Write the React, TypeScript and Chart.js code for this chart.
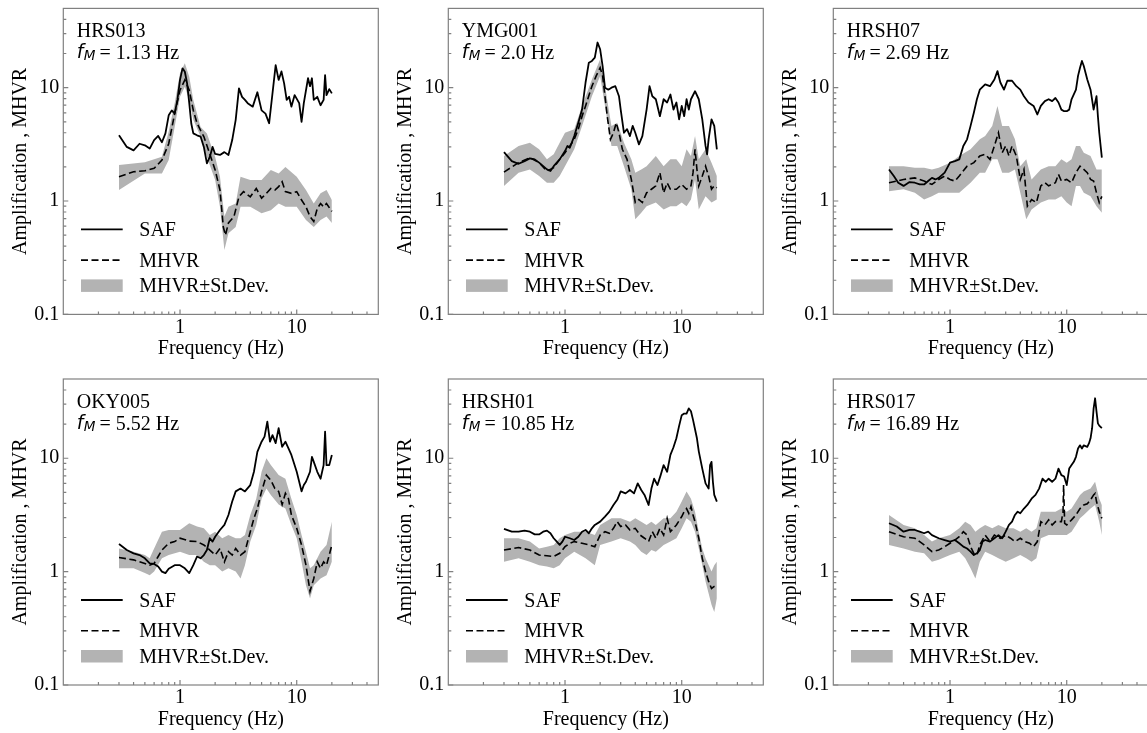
import React, { useEffect, useRef } from 'react';
import { Chart, registerables } from 'chart.js';

Chart.register(...registerables);

const SERIF = '"Liberation Serif", "Times New Roman", serif';
const SANS = '"DejaVu Sans", "Noto Sans", sans-serif';
const AXIS_COLOR = '#808080';
const BAND_COLOR = '#b3b3b3';

// ---------- tick values ----------
const xMajor = [1, 10];
const yMajor = [0.1, 1, 10];
const minorVals = [0.2, 0.3, 0.4, 0.5, 0.6, 0.7, 0.8, 0.9, 2, 3, 4, 5, 6, 7, 8, 9, 20, 30, 40];
const xTitle = 'Frequency (Hz)';
const yTitle = 'Amplification , MHVR';
const legendLabels = ['SAF', 'MHVR', 'MHVR\u00B1St.Dev.'];

// ---------- panel 1: HRS013 ----------
const p1SafF = [0.3,0.35,0.4,0.45,0.5,0.55,0.6,0.65,0.7,0.75,0.8,0.85,0.9,0.95,1.0,1.05,1.1,1.15,1.2,1.25,1.3,1.4,1.5,1.6,1.7,1.8,1.9,2.0,2.2,2.4,2.6,2.8,3.0,3.2,3.4,3.6,3.8,4.2,4.6,5.0,5.4,5.8,6.2,6.6,7.0,7.4,7.8,8.2,8.6,9.0,9.6,10.5,11,11.5,12.5,13,13.5,14,15,16,17,17.5,18,19,20];
const p1SafV = [3.8,3.0,2.8,3.2,3.1,2.9,3.45,3.75,3.3,3.95,5.7,6.3,5.9,7.8,11.7,14.8,13.8,10.9,7.3,4.8,3.95,3.8,3.7,3.0,2.15,2.45,3.0,2.6,2.55,2.7,2.55,3.45,5.2,9.85,8.3,7.8,7.3,6.8,9.1,6.3,5.9,4.85,8.9,15.8,11.7,13.9,10.9,7.8,8.3,6.8,8.6,7.3,5.0,7.3,12.1,10.3,12.1,7.8,8.3,7.0,7.8,12.9,8.6,9.7,8.9];
const p1MhF = [0.3,0.4,0.5,0.6,0.7,0.8,0.9,1.0,1.1,1.2,1.3,1.4,1.5,1.6,1.8,2.0,2.2,2.35,2.45,2.6,2.9,3.2,3.5,4.0,4.5,5.0,5.5,6.0,6.5,7.0,7.5,8.0,9.0,10,11,12,13,14,15,16,17,18,20];
const p1MhV = [1.64,1.81,1.85,1.94,2.3,3.2,5.9,9.5,11.7,9.5,6.3,4.85,4.2,3.7,2.6,1.88,1.25,0.59,0.5,0.64,0.73,1.09,1.21,1.09,1.29,1.06,1.17,1.29,1.25,1.34,1.48,1.21,1.17,1.21,1.02,0.89,0.73,0.66,0.86,0.95,0.89,0.95,0.81];
const p1BandF = [0.3,0.5,0.7,0.8,0.9,1.0,1.1,1.2,1.3,1.5,1.7,2.0,2.2,2.4,2.6,3.0,3.3,4,5,6,7,8,10,12,14,16,18,20];
const p1BandHi = [2.08,2.2,2.46,4.1,7.3,13.4,16.4,12.5,7.8,4.5,3.95,2.45,1.64,0.73,0.89,0.95,1.64,1.53,1.53,1.88,1.75,2.0,1.64,1.25,0.95,1.17,1.25,1.02];
const p1BandLo = [1.25,1.75,1.75,2.3,4.5,8.3,10.2,7.8,5.2,3.7,2.45,1.53,0.89,0.37,0.52,0.59,0.89,0.89,0.78,0.83,0.95,0.89,0.89,0.68,0.59,0.68,0.73,0.64];

// ---------- panel 2: YMG001 ----------
const p2SafF = [0.3,0.35,0.4,0.45,0.5,0.55,0.6,0.7,0.75,0.8,0.9,1.0,1.05,1.1,1.2,1.3,1.4,1.5,1.6,1.7,1.8,1.9,2.0,2.1,2.2,2.35,2.5,2.7,2.9,3.0,3.2,3.4,3.6,3.8,4.0,4.3,4.6,5.0,5.3,5.6,6.0,6.5,7,7.5,8,8.5,9,9.5,10,10.5,11,11.5,12,13,14,15,16,16.5,17,18,19,20];
const p2SafV = [2.7,2.25,2.13,2.25,2.38,2.33,2.18,1.9,1.84,2.03,2.33,2.76,3.06,2.95,3.74,4.9,6.4,11.1,16.6,17.2,18.4,25,21.8,15.5,10,9.6,10,10.3,8.4,6.4,4.0,4.3,3.74,4.6,4.0,3.16,3.74,6.4,10.3,8.4,7.9,5.6,7.9,7.4,8.7,6.4,7.4,5.25,6.9,5.6,7.9,6.4,7.9,9.3,7.9,5.25,3.06,2.58,3.5,5.25,4.6,2.86];
const p2MhF = [0.3,0.4,0.5,0.6,0.7,0.8,0.9,1.0,1.1,1.2,1.3,1.4,1.5,1.7,1.85,2.0,2.1,2.2,2.3,2.45,2.6,2.75,2.9,3.1,3.4,3.7,4.0,4.3,4.6,5,5.5,6,6.5,7,7.5,8,9,10,11,12,12.5,13,13.5,14,15,16,17,18,19,20];
const p2MhV = [1.8,2.18,2.41,2.18,1.84,1.97,2.33,2.67,3.06,3.5,4.3,5.6,6.9,10.3,12.7,15.0,12.7,8.4,5.6,3.5,4.0,4.9,4.0,2.86,2.33,1.55,0.97,1.03,0.97,1.18,1.27,1.36,1.78,1.18,1.45,1.27,1.27,1.4,1.27,1.36,1.78,2.86,1.9,1.36,1.66,2.03,1.66,1.27,1.36,1.31];
const p2BandF = [0.3,0.4,0.5,0.6,0.7,0.8,0.9,1.0,1.2,1.4,1.7,2.0,2.2,2.5,2.8,3.2,3.7,4.0,4.5,5,6,7,8,9,10,11,12,13,14,16,18,20];
const p2BandHi = [2.5,3.06,3.27,2.86,2.33,2.58,3.27,4.0,4.3,6.9,11.8,17.8,10.3,4.6,4.9,3.27,2.33,1.78,1.9,2.03,2.5,2.03,2.33,2.33,2.03,2.86,2.5,3.74,2.33,2.86,2.18,1.66];
const p2BandLo = [1.36,1.78,1.9,1.66,1.45,1.45,1.66,2.03,2.86,4.6,8.4,12.7,6.9,3.06,3.06,2.03,1.27,0.69,0.79,0.9,0.97,0.84,0.9,0.9,0.97,0.9,1.03,1.55,0.84,1.1,0.97,1.03];

// ---------- panel 3: HRSH07 ----------
const p3SafF = [0.3,0.33,0.36,0.4,0.45,0.5,0.55,0.6,0.65,0.7,0.75,0.8,0.9,1.0,1.1,1.2,1.3,1.4,1.5,1.6,1.7,1.8,2.0,2.2,2.4,2.55,2.7,2.9,3.1,3.4,3.7,4.0,4.3,4.7,5.2,5.6,6.0,6.5,7.0,7.5,8.0,8.5,9.0,9.5,10,10.5,11,12,12.5,13,13.5,14,15,16,17,18,18.5,19,20];
const p3SafV = [1.9,1.66,1.45,1.36,1.47,1.45,1.4,1.4,1.5,1.6,1.55,1.6,1.78,2.18,2.25,2.33,3.06,3.5,4.6,6.0,7.9,9.6,10.7,10.3,11.8,14.0,11.1,9.6,11.5,11.5,10.3,9.6,8.4,7.4,6.9,5.8,6.9,7.6,7.9,7.6,8.1,7.4,6.4,6.2,6.2,6.4,7.9,9.6,12.7,15,17.2,15.5,11.8,9.6,6.4,8.4,5.6,4.0,2.41];
const p3MhF = [0.3,0.4,0.5,0.6,0.7,0.8,0.9,1.0,1.1,1.2,1.4,1.6,1.8,2.0,2.2,2.4,2.6,2.8,3.0,3.2,3.4,3.7,4.0,4.3,4.6,5.0,5.5,6.0,6.5,7,8,8.5,9,10,11,12,13,14,15,16,17,18,19,20];
const p3MhV = [1.45,1.55,1.6,1.5,1.4,1.55,1.66,1.55,1.5,1.66,2.03,2.18,2.5,2.58,2.33,3.06,4.0,2.67,3.06,2.5,3.06,2.5,1.55,1.9,0.9,1.03,0.97,1.36,1.45,1.36,1.45,1.72,1.5,1.55,1.45,1.78,2.03,1.9,1.78,1.55,1.5,1.18,0.97,1.1];
const p3BandF = [0.3,0.4,0.5,0.6,0.7,0.8,1.0,1.2,1.5,1.8,2.0,2.3,2.55,2.8,3.2,3.6,4.0,4.5,5,6,7,8,9,10,11,12,13,14,16,18,20];
const p3BandHi = [2.03,2.03,1.97,1.97,1.9,1.97,2.18,2.5,2.86,3.5,3.74,4.6,6.9,4.6,4.6,3.5,2.03,2.33,1.55,1.9,2.03,2.03,2.33,2.18,2.33,3.06,3.06,2.67,2.5,1.9,1.9];
const p3BandLo = [1.22,1.27,1.18,1.03,1.1,1.18,1.18,1.18,1.45,1.78,1.78,2.33,2.33,1.78,1.78,1.9,1.18,0.69,0.84,0.97,1.03,1.03,1.1,0.97,0.9,1.36,1.36,1.18,1.1,0.9,0.79];

// ---------- panel 4: OKY005 ----------
const p4SafF = [0.3,0.35,0.4,0.45,0.5,0.55,0.6,0.65,0.7,0.75,0.8,0.9,1.0,1.1,1.2,1.3,1.4,1.5,1.6,1.7,1.8,1.9,2.0,2.2,2.4,2.6,2.8,3.0,3.3,3.6,4.0,4.3,4.6,5.0,5.3,5.6,5.9,6.2,6.6,7.0,7.5,8.0,8.5,9.0,10,10.5,11,11.5,12,13,13.5,14,15,16,17,17.5,18,19,20];
const p4SafV = [1.75,1.55,1.45,1.4,1.31,1.18,1.17,1.11,1.0,0.97,1.06,1.14,1.14,1.07,0.97,1.14,1.36,1.31,1.4,1.55,1.97,1.84,2.03,2.33,2.58,3.16,4.15,5.1,5.4,5.1,5.8,7.6,11.4,14.0,15.5,21,14,16,13.6,18.4,12.6,14,12.2,10.7,7.6,6.2,5.1,5.8,6.2,7.6,10.3,9.3,7.6,6.6,8.7,17.2,8.7,8.7,10.7];
const p4MhF = [0.3,0.4,0.5,0.55,0.6,0.65,0.7,0.8,0.9,1.0,1.2,1.4,1.6,1.8,2.0,2.2,2.4,2.6,2.8,3.0,3.3,3.6,4.0,4.3,4.6,5.0,5.5,6.0,6.5,7.0,7.5,8.0,8.5,9.0,10,11,12,12.5,13,14,15,16,17,18,19,20];
const p4MhV = [1.33,1.27,1.18,1.14,1.18,1.36,1.55,1.78,1.84,1.97,1.86,1.84,1.72,1.55,1.4,1.6,1.22,1.5,1.4,1.6,1.4,1.5,2.25,2.95,3.6,5.1,7.1,6.4,5.4,5.1,3.9,4.9,4.4,3.16,2.41,1.72,1.14,0.87,0.67,0.87,1.22,1.07,1.22,1.14,1.4,1.72];
const p4BandF = [0.3,0.4,0.5,0.55,0.6,0.7,0.8,1.0,1.2,1.4,1.6,1.8,2.0,2.3,2.6,3.0,3.3,3.6,4.0,4.5,5.0,5.5,6.0,7.0,8.0,9.0,10,11,12,13,14,16,18,20];
const p4BandHi = [1.6,1.5,1.4,1.31,1.6,2.25,2.33,2.33,2.67,2.5,2.41,2.1,2.25,1.97,2.1,1.97,1.97,2.1,3.16,4.4,7.6,10,8.7,7.1,6.6,4.4,3.16,2.1,1.5,1.07,1.14,1.5,1.72,2.76];
const p4BandLo = [1.07,1.07,0.97,0.93,1.0,1.31,1.4,1.5,1.4,1.4,1.22,1.14,1.14,1.0,1.07,1.0,0.87,1.14,1.84,2.58,4.4,5.4,4.75,3.9,3.6,2.58,1.97,1.22,0.76,0.58,0.76,0.87,0.93,1.22];

// ---------- panel 5: HRSH01 ----------
const p5SafF = [0.3,0.35,0.4,0.45,0.5,0.55,0.6,0.65,0.7,0.75,0.8,0.85,0.9,0.95,1.0,1.1,1.2,1.3,1.4,1.5,1.6,1.7,1.8,2.0,2.2,2.4,2.6,2.8,3.0,3.3,3.6,3.9,4.2,4.5,4.8,5.2,5.5,5.8,6.2,6.6,7.0,7.5,8.0,8.5,9.0,9.5,10,10.5,11,11.5,12,12.5,13,13.5,14,15,16,17,17.5,18,18.5,19,20];
const p5SafV = [2.38,2.25,2.25,2.3,2.25,2.13,2.13,2.25,2.3,2.18,1.97,1.84,1.72,1.84,2.03,1.97,1.9,2.03,2.25,2.33,2.18,2.41,2.58,2.76,3.06,3.38,3.87,4.3,5.1,4.9,5.25,4.9,6.0,5.25,4.75,3.87,5.4,6.6,5.8,7.1,8.7,7.6,10.7,12.5,15,19.3,24,24.8,24.8,27.5,26,21.8,18,15,11.5,8.1,6.0,5.4,8.7,9.3,6.2,4.75,4.15];
const p5MhF = [0.3,0.4,0.5,0.6,0.7,0.8,0.9,1.0,1.1,1.2,1.4,1.6,1.8,2.0,2.2,2.4,2.6,2.8,3.0,3.3,3.6,4.0,4.4,4.8,5.2,5.6,6.0,6.5,7.0,7.5,8.0,8.5,9,10,10.5,11,11.5,12,12.5,13,14,15,16,17,18,19,20];
const p5MhV = [1.55,1.63,1.55,1.4,1.38,1.36,1.45,1.66,1.78,1.84,1.78,1.72,1.66,2.1,2.25,2.18,2.41,2.76,2.5,2.58,2.33,2.41,2.1,1.97,1.84,2.25,1.97,2.41,2.1,2.95,2.25,2.41,2.58,3.06,3.38,3.6,3.27,3.74,3.16,2.76,1.97,1.31,1.0,0.82,0.71,0.74,0.76];
const p5BandF = [0.3,0.4,0.5,0.6,0.7,0.8,0.9,1.0,1.2,1.5,1.8,2.0,2.5,3.0,3.6,4.0,4.5,5.0,5.5,6,7,8,9,10,11,12,13,14,15,16,18,19,20];
const p5BandHi = [1.97,1.97,1.84,1.6,1.66,1.72,1.97,2.1,2.25,2.25,2.1,2.58,2.95,2.95,2.76,2.95,2.76,2.58,2.76,2.58,2.95,2.95,3.38,4.15,5.1,4.4,3.38,2.25,1.6,1.31,1.0,1.14,1.22];
const p5BandLo = [1.22,1.31,1.22,1.14,1.11,1.07,1.14,1.31,1.5,1.31,1.14,1.72,1.84,1.97,1.84,1.72,1.5,1.4,1.55,1.5,1.72,1.84,1.97,2.41,2.95,2.76,2.25,1.6,1.14,0.82,0.51,0.44,0.58];

// ---------- panel 6: HRS017 ----------
const p6SafF = [0.3,0.35,0.4,0.45,0.5,0.55,0.6,0.65,0.7,0.8,0.9,1.0,1.1,1.2,1.3,1.4,1.5,1.6,1.7,1.8,1.9,2.0,2.2,2.4,2.6,2.8,3.0,3.2,3.4,3.6,3.8,4.0,4.3,4.6,5.0,5.4,5.8,6.2,6.6,7.0,7.5,8.0,8.5,9.0,9.5,10,10.5,11,11.5,12,12.5,13,13.5,14,15,15.5,16,16.5,17,17.5,18,18.5,19,20];
const p6SafV = [2.67,2.5,2.25,2.33,2.33,2.25,2.18,2.25,2.1,1.97,1.9,1.84,1.9,1.78,1.66,1.6,1.5,1.4,1.45,1.55,1.84,1.9,1.84,1.97,2.1,1.97,2.25,2.58,2.76,3.16,3.38,3.27,3.6,3.87,4.4,4.75,5.4,6.6,6.2,6.6,6.2,6.6,8.1,7.1,6.9,5.8,8.1,8.7,9.3,10.3,12.2,13.0,12.2,13.0,12.6,13.5,15,18.4,27.5,33.8,25.8,20.3,19.4,18.4];
const p6MhF = [0.3,0.4,0.5,0.6,0.7,0.8,0.9,1.0,1.1,1.2,1.3,1.4,1.5,1.6,1.7,1.8,2.0,2.2,2.4,2.7,3.0,3.3,3.6,4.0,4.4,4.8,5.2,5.6,6.0,6.5,7.0,7.5,8,9,9.3,9.4,9.6,10,11,12,13,14,15,16,17,17.5,18,19,20];
const p6MhV = [2.25,2.03,1.97,1.72,1.5,1.55,1.66,1.78,1.9,2.03,2.25,2.1,1.66,1.45,1.4,1.72,2.1,1.84,2.1,1.97,2.1,1.97,1.84,1.97,1.84,1.78,1.66,1.84,2.76,2.58,2.86,2.58,2.76,2.76,3.38,5.8,2.67,2.58,2.86,3.16,3.6,3.87,3.97,4.3,4.75,4.9,4.15,3.38,2.95];
const p6BandF = [0.3,0.4,0.5,0.6,0.7,0.8,1.0,1.2,1.35,1.5,1.65,1.8,2.0,2.3,2.6,3.0,3.5,4.0,4.5,5,5.5,6,7,8,9,10,11,12,13,14,16,17.5,19,20];
const p6BandHi = [3.16,2.58,2.41,2.1,1.84,1.97,2.1,2.41,2.76,2.58,2.25,2.41,2.58,2.41,2.58,2.41,2.41,2.25,2.41,2.25,2.41,3.38,3.38,3.38,3.6,3.38,3.6,4.15,4.75,5.1,5.4,6.2,4.4,3.87];
const p6BandLo = [1.72,1.6,1.5,1.45,1.22,1.27,1.4,1.5,1.31,1.07,0.87,1.22,1.5,1.4,1.31,1.22,1.31,1.4,1.31,1.22,1.31,1.97,2.1,2.1,2.1,2.1,2.25,2.58,2.95,3.16,3.6,3.87,2.76,2.1];

const stationNames = ['HRS013', 'YMG001', 'HRSH07', 'OKY005', 'HRSH01', 'HRS017'];
const fmValues = ['1.13', '2.0', '2.69', '5.52', '10.85', '16.89'];

const panelData = [
  { saf: [p1SafF, p1SafV], mh: [p1MhF, p1MhV], band: [p1BandF, p1BandHi, p1BandLo] },
  { saf: [p2SafF, p2SafV], mh: [p2MhF, p2MhV], band: [p2BandF, p2BandHi, p2BandLo] },
  { saf: [p3SafF, p3SafV], mh: [p3MhF, p3MhV], band: [p3BandF, p3BandHi, p3BandLo] },
  { saf: [p4SafF, p4SafV], mh: [p4MhF, p4MhV], band: [p4BandF, p4BandHi, p4BandLo] },
  { saf: [p5SafF, p5SafV], mh: [p5MhF, p5MhV], band: [p5BandF, p5BandHi, p5BandLo] },
  { saf: [p6SafF, p6SafV], mh: [p6MhF, p6MhV], band: [p6BandF, p6BandHi, p6BandLo] },
];

// ---------- layout ----------
const AREA_LEFT = 63.3;
const AREA_W = 315;
const AREA_H = 306;
const CANVAS_W = 385;
const rowsLayout = [
  { top: 0, height: 368, padTop: 8.4 },
  { top: 370, height: 363, padTop: 9 },
];

function pts(xs: number[], ys: number[]) {
  return xs.map((x, i) => ({ x, y: ys[i] }));
}

function makeDeco(name: string, fm: string) {
  return {
    id: 'deco',
    afterDraw(chart: any) {
      const { ctx, chartArea: a, scales } = chart;
      const xs = scales.x;
      const ys = scales.y;
      ctx.save();
      // frame
      ctx.strokeStyle = AXIS_COLOR;
      ctx.lineWidth = 1.2;
      ctx.setLineDash([]);
      ctx.strokeRect(a.left, a.top, a.right - a.left, a.bottom - a.top);
      // ticks (inward, bottom + left)
      ctx.beginPath();
      xMajor.forEach((v) => {
        const p = xs.getPixelForValue(v);
        ctx.moveTo(p, a.bottom);
        ctx.lineTo(p, a.bottom - 5);
      });
      minorVals.forEach((v) => {
        const p = xs.getPixelForValue(v);
        ctx.moveTo(p, a.bottom);
        ctx.lineTo(p, a.bottom - 3);
      });
      yMajor.forEach((v) => {
        const p = ys.getPixelForValue(v);
        ctx.moveTo(a.left, p);
        ctx.lineTo(a.left + 5, p);
      });
      minorVals.forEach((v) => {
        const p = ys.getPixelForValue(v);
        ctx.moveTo(a.left, p);
        ctx.lineTo(a.left + 3, p);
      });
      ctx.stroke();

      const L = a.left;
      const B = a.bottom;
      const T = a.top;
      // legend
      ctx.strokeStyle = '#000';
      ctx.lineWidth = 1.8;
      ctx.beginPath();
      ctx.moveTo(L + 17.7, B - 85);
      ctx.lineTo(L + 59.4, B - 85);
      ctx.stroke();
      ctx.setLineDash([7, 3.5]);
      ctx.lineWidth = 1.6;
      ctx.beginPath();
      ctx.moveTo(L + 17.7, B - 54.3);
      ctx.lineTo(L + 59.4, B - 54.3);
      ctx.stroke();
      ctx.setLineDash([]);
      ctx.fillStyle = BAND_COLOR;
      ctx.fillRect(L + 17.7, B - 35, 41.7, 12.5);

      ctx.fillStyle = '#000';
      ctx.textAlign = 'left';
      ctx.textBaseline = 'alphabetic';
      ctx.font = `20px ${SERIF}`;
      ctx.fillText(legendLabels[0], L + 76, B - 78.3);
      ctx.fillText(legendLabels[1], L + 76, B - 47.6);
      ctx.fillText(legendLabels[2], L + 76, B - 22.3);

      // station annotation
      ctx.fillText(name, L + 13.4, T + 29);
      const b2 = T + 51;
      ctx.font = `italic 19px ${SANS}`;
      ctx.fillText('f', L + 13.4, b2 - 1.5);
      const fw = ctx.measureText('f').width;
      ctx.font = `italic 13.5px ${SANS}`;
      ctx.fillText('M', L + 13.4 + fw + 0.3, b2 + 1);
      const mw = ctx.measureText('M').width;
      ctx.font = `20px ${SERIF}`;
      ctx.fillText(`= ${fm} Hz`, L + 13.4 + fw + mw + 4.5, b2);

      // axis titles
      ctx.textAlign = 'center';
      ctx.fillText(xTitle, (a.left + a.right) / 2, B + 39.5);
      ctx.save();
      ctx.translate(L - 37.8, (a.top + a.bottom) / 2);
      ctx.rotate(-Math.PI / 2);
      ctx.fillText(yTitle, 0, 0);
      ctx.restore();

      ctx.restore();
    },
  };
}

function Panel({ idx }: { idx: number }) {
  const ref = useRef<HTMLCanvasElement>(null);
  const row = Math.floor(idx / 3);
  const col = idx % 3;
  const rl = rowsLayout[row];
  const left = col * CANVAS_W;

  useEffect(() => {
    if (!ref.current) return;
    const d = panelData[idx];
    const xAxisH = rl.height - rl.padTop - AREA_H;
    const chart = new Chart(ref.current, {
      type: 'line',
      data: {
        datasets: [
          {
            label: 'SAF',
            data: pts(d.saf[0], d.saf[1]),
            borderColor: '#000',
            borderWidth: 1.8,
            pointRadius: 0,
            fill: false,
            tension: 0,
            borderJoinStyle: 'round',
          },
          {
            label: 'MHVR',
            data: pts(d.mh[0], d.mh[1]),
            borderColor: '#000',
            borderWidth: 1.6,
            borderDash: [7, 3.5],
            pointRadius: 0,
            fill: false,
            tension: 0,
          },
          {
            label: 'MHVR+SD',
            data: pts(d.band[0], d.band[1]),
            borderColor: 'rgba(0,0,0,0)',
            borderWidth: 0,
            backgroundColor: BAND_COLOR,
            pointRadius: 0,
            fill: '+1',
            tension: 0,
          },
          {
            label: 'MHVR-SD',
            data: pts(d.band[0], d.band[2]),
            borderColor: 'rgba(0,0,0,0)',
            borderWidth: 0,
            pointRadius: 0,
            fill: false,
            tension: 0,
          },
        ],
      },
      options: {
        responsive: false,
        animation: false,
        devicePixelRatio: 1,
        events: [],
        layout: {
          padding: { left: 0, top: rl.padTop, right: CANVAS_W - AREA_LEFT - AREA_W, bottom: 0 },
        },
        plugins: { legend: { display: false }, tooltip: { enabled: false } },
        scales: {
          x: {
            type: 'logarithmic',
            position: 'bottom',
            min: 0.1,
            max: 50,
            afterBuildTicks: (s: any) => {
              s.ticks = xMajor.map((v) => ({ value: v }));
            },
            afterFit: (s: any) => {
              s.height = xAxisH;
              s.paddingLeft = 0;
              s.paddingRight = 0;
              s.paddingTop = 0;
              s.paddingBottom = 0;
            },
            ticks: {
              autoSkip: false,
              maxRotation: 0,
              minRotation: 0,
              padding: 1,
              color: '#000',
              font: { family: SERIF, size: 20 },
              callback: (v: any) => String(v),
            },
            grid: { display: false, drawTicks: false },
            border: { display: false },
          },
          y: {
            type: 'logarithmic',
            position: 'left',
            min: 0.1,
            max: 50,
            afterBuildTicks: (s: any) => {
              s.ticks = yMajor.map((v) => ({ value: v }));
            },
            afterFit: (s: any) => {
              s.width = AREA_LEFT;
              s.paddingLeft = 0;
              s.paddingRight = 0;
              s.paddingTop = 0;
              s.paddingBottom = 0;
            },
            ticks: {
              autoSkip: false,
              padding: 4,
              color: '#000',
              font: { family: SERIF, size: 20 },
              callback: (v: any) => String(v),
            },
            grid: { display: false, drawTicks: false },
            border: { display: false },
          },
        },
      } as any,
      plugins: [makeDeco(stationNames[idx], fmValues[idx])],
    });
    return () => chart.destroy();
  }, [idx]);

  return (
    <canvas
      ref={ref}
      width={CANVAS_W}
      height={rl.height}
      style={{ position: 'absolute', left, top: rl.top, width: CANVAS_W, height: rl.height }}
    />
  );
}

export default function App() {
  return (
    <div
      style={{
        position: 'fixed',
        left: 0,
        top: 0,
        width: 1147,
        height: 733,
        overflow: 'hidden',
        background: '#fff',
      }}
    >
      {[0, 1, 2, 3, 4, 5].map((i) => (
        <Panel key={i} idx={i} />
      ))}
    </div>
  );
}
